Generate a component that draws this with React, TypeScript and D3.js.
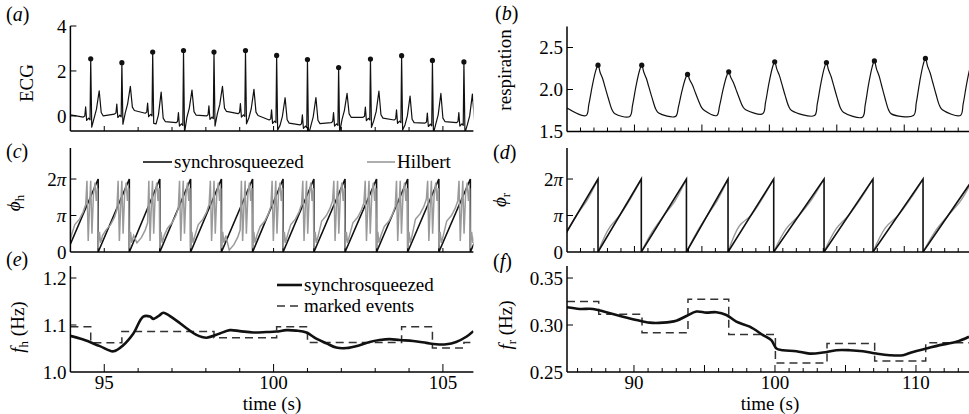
import React from "react";
import * as d3 from "d3";

const W = 969;
const H = 414;
const FONT = "Liberation Serif, Times New Roman, Times, serif";
const PI = Math.PI;

// ---------- heart (left column) ----------
// R-peak times (s) and amplitudes of the ECG, with T-wave tops and baseline levels
const ecgRTimes = [94.6, 95.52, 96.43, 97.34, 98.24, 99.17, 100.09, 101.0, 101.92, 102.86, 103.78, 104.69, 105.62];
const ecgRAmps = [2.54, 2.37, 2.84, 2.91, 2.84, 2.91, 2.69, 2.51, 2.15, 2.53, 2.68, 2.47, 2.4];
const ecgTAmps = [1.12, 1.32, 1.06, 1.15, 1.32, 1.18, 0.81, 0.82, 1.0, 1.1, 0.88, 1.0, 0.97];
const ecgBaseBefore = [-0.05, 0.08, 0.12, -0.3, 0.0, 0.1, -0.18, -0.4, -0.3, -0.06, -0.18, -0.32, -0.3];
const ecgBaseAfter = [0.0, 0.24, -0.25, 0.04, 0.2, 0.02, -0.32, -0.34, -0.06, -0.1, -0.3, -0.25, -0.3];
const ecgStartLevel = 0.05;

// synchrosqueezed heart phase: times where it wraps 2pi -> 0
const phaseHDrops = [94.82, 95.74, 96.64, 97.55, 98.46, 99.38, 100.28, 101.19, 102.11, 103.04, 103.96, 104.88, 105.81];
// Hilbert phase level (units of pi) in the quiet part of each cycle
const hilbertLevels = [0.9, 0.75, 0.4, 0.8, 0.9, 0.2, 0.85, 0.9, 1.0, 0.95, 0.85, 1.05, 1.0, 1.0];

// instantaneous heart frequency (Hz)
const fhTimes = [93.99, 94.38, 94.87, 95.27, 95.56, 95.86, 96.15, 96.35, 96.45, 96.64, 96.74, 97.04, 97.43, 97.72, 98.02, 98.41, 98.71, 99.0, 99.4, 99.79, 100.08, 100.38, 100.67, 100.97, 101.26, 101.56, 101.85, 102.15, 102.54, 102.84, 103.13, 103.43, 103.72, 104.12, 104.51, 104.8, 105.1, 105.39, 105.69, 105.9];
const fhValues = [1.077, 1.069, 1.055, 1.044, 1.057, 1.082, 1.118, 1.118, 1.113, 1.121, 1.126, 1.114, 1.093, 1.079, 1.073, 1.082, 1.089, 1.087, 1.084, 1.085, 1.086, 1.089, 1.088, 1.084, 1.071, 1.061, 1.052, 1.051, 1.057, 1.064, 1.068, 1.07, 1.068, 1.066, 1.062, 1.059, 1.059, 1.064, 1.075, 1.087];
const fhEventTimes = [94.0, 94.6, 95.52, 98.24, 100.09, 101.0, 103.78, 104.69, 105.62, 105.9];
const fhEventValues = [1.096, 1.062, 1.086, 1.073, 1.096, 1.063, 1.096, 1.051, 1.063];

// ---------- respiration (right column) ----------
const respPeakTimes = [87.45, 90.55, 93.8, 96.72, 99.98, 103.65, 107.05, 110.67, 114.0];
const respPeakValues = [2.29, 2.29, 2.18, 2.21, 2.33, 2.32, 2.34, 2.37, 2.33];
const respTroughStart = [1.78, 1.71, 1.72, 1.75, 1.76, 1.75, 1.73, 1.71, 1.76];
const respTroughEnd = [1.69, 1.68, 1.68, 1.69, 1.71, 1.69, 1.67, 1.69, 1.69];

const phaseRDrops = [87.45, 90.52, 93.72, 96.67, 99.91, 103.48, 106.95, 110.5];
// Hilbert deviation from the synchrosqueezed phase (units of pi), early and late in each cycle
const hilbertREarly = [-0.02, 0.14, 0.07, 0.04, 0.22, 0.14, 0.14, 0.17, 0.08];
const hilbertRLate = [-0.08, -0.04, -0.09, -0.07, -0.04, -0.07, -0.04, -0.04, -0.1];

const frTimes = [85.23, 86.15, 87.09, 88.04, 89.22, 90.17, 91.11, 92.06, 93.0, 93.72, 94.43, 95.13, 95.84, 96.55, 97.26, 98.21, 99.15, 99.74, 100.1, 100.57, 101.52, 102.46, 103.4, 104.35, 105.3, 106.24, 107.19, 108.13, 109.08, 109.79, 110.74, 111.68, 112.87, 113.76];
const frValues = [0.3189, 0.3171, 0.3171, 0.3136, 0.3089, 0.3054, 0.3025, 0.3025, 0.3046, 0.3096, 0.3143, 0.3132, 0.3136, 0.3107, 0.3036, 0.2982, 0.2893, 0.2839, 0.275, 0.2732, 0.2721, 0.2696, 0.2707, 0.2732, 0.2732, 0.2721, 0.2696, 0.2679, 0.2679, 0.2714, 0.275, 0.2786, 0.2821, 0.2875];
const frEventTimes = [85.25, 87.5, 90.57, 93.83, 96.72, 100.03, 103.69, 107.07, 110.69, 113.76];
const frEventValues = [0.325, 0.3114, 0.2918, 0.3275, 0.29, 0.2596, 0.2804, 0.2618, 0.2811];

type Pt = [number, number];

// ---------- scales ----------
const xL = d3.scaleLinear().domain([94, 105.9]).range([70.4, 473.4]);
const xR = d3.scaleLinear().domain([85.25, 113.76]).range([567, 969]);
const xRTicks = d3.scaleLinear().domain([85, 114.8]).range([567, 969]);

const yA = d3.scaleLinear().domain([-0.67, 4]).range([131, 26]);
const yB = d3.scaleLinear().domain([1.5, 2.75]).range([131.5, 26.5]);
const yC = d3.scaleLinear().domain([0, 2.85 * PI]).range([252, 148]);
const yE = d3.scaleLinear().domain([1.0, 1.2255]).range([372, 266]);
const yF = d3.scaleLinear().domain([0.25, 0.3628]).range([372, 266]);

// ---------- series builders ----------
function buildEcg(): Pt[] {
  const pts: Pt[] = [[94.0, ecgStartLevel]];
  ecgRTimes.forEach((r, i) => {
    const b = ecgBaseBefore[i];
    const a = ecgBaseAfter[i];
    pts.push(
      [r - 0.22, b], [r - 0.175, b + 0.05], [r - 0.15, b + 0.45], [r - 0.12, b - 0.15],
      [r - 0.06, b - 0.05], [r - 0.02, b - 0.12], [r, ecgRAmps[i]], [r + 0.03, b - 0.45],
      [r + 0.1, a - 0.1], [r + 0.17, a + 0.3], [r + 0.25, ecgTAmps[i]], [r + 0.31, a + 0.15], [r + 0.37, a]
    );
  });
  return pts;
}

function withEdges(drops: number[]) {
  const first = drops[0] - (drops[1] - drops[0]);
  const n = drops.length;
  const last = drops[n - 1] + (drops[n - 1] - drops[n - 2]);
  return [first, ...drops, last];
}

function sawtooth(drops: number[]): Pt[] {
  const b = withEdges(drops);
  const pts: Pt[] = [];
  for (let k = 0; k < b.length - 1; k++) {
    pts.push([b[k], 0], [b[k + 1], 2 * PI]);
  }
  return pts;
}

const hilbertShape: { f: number; v: number; rel?: boolean }[] = [
  { f: 0, v: 0.1 }, { f: 0.04, v: 0.55 }, { f: 0.08, v: 0.25 }, { f: 0.14, v: 0.45 },
  { f: 0.25, v: -0.15, rel: true }, { f: 0.4, v: 0, rel: true }, { f: 0.52, v: 0.2, rel: true },
  { f: 0.6, v: 0.4, rel: true }, { f: 0.64, v: 1.95 }, { f: 0.68, v: 0.3 }, { f: 0.72, v: 1.2 },
  { f: 0.76, v: 1.95 }, { f: 0.8, v: 0.5 }, { f: 0.85, v: 1.6 }, { f: 0.9, v: 1.9 },
  { f: 0.94, v: 1.4 }, { f: 0.98, v: 1.75 }, { f: 1.0, v: 0.1 },
];

function buildHilbertH(): Pt[] {
  const b = withEdges(phaseHDrops);
  const pts: Pt[] = [];
  for (let k = 0; k < b.length - 1; k++) {
    const L = hilbertLevels[k];
    hilbertShape.forEach((s) => {
      pts.push([b[k] + s.f * (b[k + 1] - b[k]), (s.rel ? L + s.v : s.v) * PI]);
    });
  }
  return pts;
}

function buildHilbertR(): Pt[][] {
  const b = withEdges(phaseRDrops);
  const segs: Pt[][] = [];
  for (let k = 0; k < b.length - 1; k++) {
    const t0 = b[k];
    const dt = b[k + 1] - b[k];
    const devs: Pt[] = [[0, 0], [0.25, hilbertREarly[k]], [0.5, 0], [0.75, hilbertRLate[k]], [1, 0]];
    segs.push(devs.map(([f, d]) => [t0 + f * dt, 2 * PI * f + d * PI]));
  }
  return segs;
}

function buildResp(): Pt[] {
  const pts: Pt[] = [[85.25, respTroughStart[0]]];
  const n = respPeakTimes.length;
  for (let i = 0; i < n; i++) {
    const p = respPeakTimes[i];
    const pv = respPeakValues[i];
    const te = respTroughEnd[i];
    pts.push([p - 0.85, te], [p - 0.65, te + 0.22 * (pv - te)], [p - 0.4, te + 0.6 * (pv - te)], [p - 0.15, te + 0.9 * (pv - te)], [p, pv]);
    if (i < n - 1) {
      const ts = respTroughStart[i + 1];
      pts.push([p + 0.15, ts + 0.85 * (pv - ts)], [p + 0.33, ts + 0.72 * (pv - ts)], [p + 0.5, ts + 0.55 * (pv - ts)], [p + 0.75, ts + 0.3 * (pv - ts)], [p + 1.0, ts + 0.08 * (pv - ts)], [p + 1.2, ts]);
    }
  }
  return pts;
}

const zip = (a: number[], b: number[]): Pt[] => a.map((t, i) => [t, b[i]]);
const steps = (t: number[], v: number[]): Pt[] => t.map((x, i) => [x, v[Math.min(i, v.length - 1)]]);

// ---------- axes ----------
type YTick = { v: number; label: React.ReactNode };

function Frame(props: {
  x: d3.ScaleLinear<number, number>;
  tx: d3.ScaleLinear<number, number>;
  y: d3.ScaleLinear<number, number>;
  xTicks: number[];
  majorEvery: number;
  majorLen: number;
  yTicks: YTick[];
  xLabels?: number[];
}) {
  const { x, tx, y, xTicks, majorEvery, majorLen, yTicks, xLabels } = props;
  const [x0, x1] = x.range();
  const [y0, y1] = y.range();
  return (
    <g>
      <line x1={x0} x2={x0} y1={y0} y2={y1} stroke="#000" strokeWidth={1.5} />
      <line x1={x0} x2={x1} y1={y0} y2={y0} stroke="#000" strokeWidth={1.6} />
      {xTicks.map((t) => (
        <line key={t} x1={tx(t)} x2={tx(t)} y1={y0} y2={y0 - (t % majorEvery === 0 ? majorLen : 4)} stroke="#000" strokeWidth={1} />
      ))}
      {yTicks.map((t, i) => (
        <g key={i}>
          {Math.abs(y(t.v) - y0) > 1 && <line x1={x0} x2={x0 + 6} y1={y(t.v)} y2={y(t.v)} stroke="#000" strokeWidth={1} />}
          <text x={x0 - 4} y={y(t.v)} dy="0.35em" textAnchor="end" fontSize={19}>
            {t.label}
          </text>
        </g>
      ))}
      {xLabels &&
        xLabels.map((t) => (
          <text key={t} x={x(t)} y={389} textAnchor="middle" fontSize={19}>
            {t}
          </text>
        ))}
    </g>
  );
}

const piTicks: YTick[] = [
  { v: 0, label: "0" },
  { v: PI, label: <tspan fontStyle="italic">π</tspan> },
  { v: 2 * PI, label: <>2<tspan fontStyle="italic">π</tspan></> },
];

function PanelLabel({ x, y, letter }: { x: number; y: number; letter: string }) {
  return (
    <text x={x} y={y} fontSize={20}>
      (<tspan fontStyle="italic">{letter}</tspan>)
    </text>
  );
}

function Clip({ id, x, y }: { id: string; x: d3.ScaleLinear<number, number>; y: d3.ScaleLinear<number, number> }) {
  const [x0, x1] = x.range();
  const [y0, y1] = y.range();
  return (
    <clipPath id={id}>
      <rect x={x0} y={y1 - 2} width={x1 - x0} height={y0 - y1 + 2} />
    </clipPath>
  );
}

const App = () => {
  const lineA = d3.line<Pt>().x((d) => xL(d[0])).y((d) => yA(d[1]));
  const lineB = d3.line<Pt>().x((d) => xR(d[0])).y((d) => yB(d[1])).curve(d3.curveCatmullRom.alpha(0.5));
  const lineCL = d3.line<Pt>().x((d) => xL(d[0])).y((d) => yC(d[1]));
  const lineCR = d3.line<Pt>().x((d) => xR(d[0])).y((d) => yC(d[1]));
  const smoothCR = d3.line<Pt>().x((d) => xR(d[0])).y((d) => yC(d[1])).curve(d3.curveCatmullRom);
  const lineE = d3.line<Pt>().x((d) => xL(d[0])).y((d) => yE(d[1])).curve(d3.curveCatmullRom);
  const stepE = d3.line<Pt>().x((d) => xL(d[0])).y((d) => yE(d[1])).curve(d3.curveStepAfter);
  const lineF = d3.line<Pt>().x((d) => xR(d[0])).y((d) => yF(d[1])).curve(d3.curveCatmullRom);
  const stepF = d3.line<Pt>().x((d) => xR(d[0])).y((d) => yF(d[1])).curve(d3.curveStepAfter);

  const leftTicks = d3.range(95, 106);
  const rightTopTicks = d3.range(86, 115);
  const rightBottomTicks = d3.range(86, 114);

  const gray = "#9a9a9a";
  const dark = "#111";

  return (
    <svg width={W} height={H} style={{ position: "absolute", left: 0, top: 0, background: "#fff", fontFamily: FONT }} fontFamily={FONT}>
      <defs>
        <Clip id="cA" x={xL} y={yA} />
        <Clip id="cB" x={xR} y={yB} />
        <Clip id="cC" x={xL} y={yC} />
        <Clip id="cD" x={xR} y={yC} />
        <Clip id="cE" x={xL} y={yE} />
        <Clip id="cF" x={xR} y={yF} />
      </defs>

      {/* (a) ECG */}
      <PanelLabel x={6} y={21} letter="a" />
      <text transform="translate(33,83) rotate(-90)" textAnchor="middle" fontSize={19}>ECG</text>
      <g clipPath="url(#cA)">
        <path d={lineA(buildEcg()) || ""} fill="none" stroke={dark} strokeWidth={1.2} strokeLinejoin="round" />
      </g>
      {ecgRTimes.map((t, i) => (
        <circle key={t} cx={xL(t)} cy={yA(ecgRAmps[i])} r={2.6} fill={dark} />
      ))}
      <Frame x={xL} tx={xL} y={yA} xTicks={leftTicks} majorEvery={5} majorLen={5} yTicks={[{ v: 0, label: "0" }, { v: 2, label: "2" }, { v: 4, label: "4" }]} />

      {/* (b) respiration */}
      <PanelLabel x={495} y={20} letter="b" />
      <text transform="translate(511,70) rotate(-90)" textAnchor="middle" fontSize={19}>respiration</text>
      <g clipPath="url(#cB)">
        <path d={lineB(buildResp()) || ""} fill="none" stroke={dark} strokeWidth={1.2} strokeLinejoin="round" />
      </g>
      {respPeakTimes.filter((t) => t < 113.76).map((t, i) => (
        <circle key={t} cx={xR(t)} cy={yB(respPeakValues[i])} r={2.6} fill={dark} />
      ))}
      <Frame x={xR} tx={xRTicks} y={yB} xTicks={rightTopTicks} majorEvery={5} majorLen={7} yTicks={[{ v: 1.5, label: "1.5" }, { v: 2.0, label: "2.0" }, { v: 2.5, label: "2.5" }]} />

      {/* (c) heart phase */}
      <PanelLabel x={6} y={158} letter="c" />
      <text transform="translate(20,203) rotate(-90)" textAnchor="middle" fontSize={19}>
        <tspan fontStyle="italic">ϕ</tspan>
        <tspan fontSize={13} dy={4}>h</tspan>
      </text>
      <g clipPath="url(#cC)">
        <path d={lineCL(sawtooth(phaseHDrops)) || ""} fill="none" stroke={dark} strokeWidth={1.6} />
        <path d={lineCL(buildHilbertH()) || ""} fill="none" stroke={gray} strokeWidth={1.5} />
      </g>
      <Frame x={xL} tx={xL} y={yC} xTicks={[95, 100, 105]} majorEvery={5} majorLen={4} yTicks={piTicks} />
      <line x1={143} x2={172} y1={162} y2={162} stroke={dark} strokeWidth={1.6} />
      <text x={174} y={168} fontSize={19}>synchrosqueezed</text>
      <line x1={367} x2={395} y1={162} y2={162} stroke={gray} strokeWidth={1.6} />
      <text x={397} y={168} fontSize={19}>Hilbert</text>

      {/* (d) respiration phase */}
      <PanelLabel x={493} y={159} letter="d" />
      <text transform="translate(506,200) rotate(-90)" textAnchor="middle" fontSize={19}>
        <tspan fontStyle="italic">ϕ</tspan>
        <tspan fontSize={13} dy={4}>r</tspan>
      </text>
      <g clipPath="url(#cD)">
        {buildHilbertR().map((s, i) => (
          <path key={i} d={smoothCR(s) || ""} fill="none" stroke={gray} strokeWidth={1.4} />
        ))}
        <path d={lineCR(sawtooth(phaseRDrops)) || ""} fill="none" stroke={dark} strokeWidth={1.6} />
      </g>
      <Frame x={xR} tx={xRTicks} y={yC} xTicks={rightTopTicks} majorEvery={5} majorLen={6} yTicks={piTicks} />

      {/* (e) heart frequency */}
      <PanelLabel x={6} y={266} letter="e" />
      <text transform="translate(24,327) rotate(-90)" textAnchor="middle" fontSize={19}>
        <tspan fontStyle="italic">f</tspan>
        <tspan fontSize={13} dy={4}>h</tspan>
        <tspan dy={-4}> (Hz)</tspan>
      </text>
      <g clipPath="url(#cE)">
        <path d={stepE(steps(fhEventTimes, fhEventValues)) || ""} fill="none" stroke="#333" strokeWidth={1.5} strokeDasharray="8,5" />
        <path d={lineE(zip(fhTimes, fhValues)) || ""} fill="none" stroke={dark} strokeWidth={2.6} strokeLinejoin="round" />
      </g>
      <Frame x={xL} tx={xL} y={yE} xTicks={leftTicks} majorEvery={5} majorLen={8} yTicks={[{ v: 1.0, label: "1.0" }, { v: 1.1, label: "1.1" }, { v: 1.2, label: "1.2" }]} xLabels={[95, 100, 105]} />
      <line x1={277} x2={302} y1={285} y2={285} stroke={dark} strokeWidth={2.6} />
      <text x={304} y={291} fontSize={19}>synchrosqueezed</text>
      <line x1={277} x2={302} y1={306} y2={306} stroke="#333" strokeWidth={1.5} strokeDasharray="8,5" />
      <text x={304} y={312} fontSize={19}>marked events</text>
      <text x={272} y={410} textAnchor="middle" fontSize={19}>time (s)</text>

      {/* (f) respiration frequency */}
      <PanelLabel x={493} y={268} letter="f" />
      <text transform="translate(512,325) rotate(-90)" textAnchor="middle" fontSize={19}>
        <tspan fontStyle="italic">f</tspan>
        <tspan fontSize={13} dy={4}>r</tspan>
        <tspan dy={-4}> (Hz)</tspan>
      </text>
      <g clipPath="url(#cF)">
        <path d={stepF(steps(frEventTimes, frEventValues)) || ""} fill="none" stroke="#333" strokeWidth={1.5} strokeDasharray="8,5" />
        <path d={lineF(zip(frTimes, frValues)) || ""} fill="none" stroke={dark} strokeWidth={2.6} strokeLinejoin="round" />
      </g>
      <Frame x={xR} tx={xR} y={yF} xTicks={rightBottomTicks} majorEvery={5} majorLen={7} yTicks={[{ v: 0.25, label: "0.25" }, { v: 0.3, label: "0.30" }, { v: 0.35, label: "0.35" }]} xLabels={[90, 100, 110]} />
      <text x={770} y={410} textAnchor="middle" fontSize={19}>time (s)</text>
    </svg>
  );
};

export default App;
